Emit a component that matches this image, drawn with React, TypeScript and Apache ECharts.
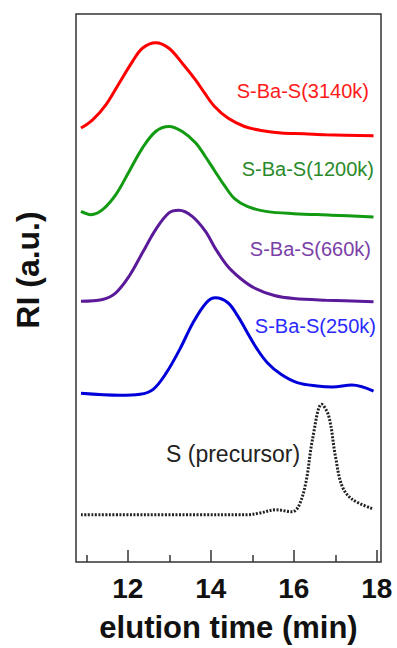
import React, { useEffect, useRef } from "react";
import * as echarts from "echarts";

const xMajorTicks = [12, 14, 16, 18];
const xMinorTicks = [11, 13, 15, 17];

const t3140 = [10.87, 11.15, 11.47, 11.79, 12.11, 12.35, 12.67, 12.99, 13.31, 13.63, 13.85, 14.09, 14.41, 14.81, 15.21, 15.69, 16.24, 16.77, 17.92];
const ri3140 = [434.7, 443, 458, 479.7, 501.3, 514.7, 520.3, 514.7, 499.7, 483, 469.7, 456.3, 444.7, 436.3, 432.3, 429.7, 429, 428, 427];

const t1200 = [10.87, 11.11, 11.39, 11.71, 12.03, 12.35, 12.67, 12.99, 13.31, 13.63, 13.87, 14.09, 14.33, 14.57, 14.89, 15.36, 16.0, 16.9, 17.92];
const ri1200 = [351.3, 348, 353, 368, 391.3, 414.7, 431.3, 436.3, 431.3, 420, 406, 392, 377, 364, 356, 351, 349, 347.5, 345.7];

const t660 = [10.87, 11.39, 11.71, 12.03, 12.35, 12.67, 12.99, 13.23, 13.55, 13.87, 14.11, 14.41, 14.73, 15.05, 15.53, 16.0, 16.77, 17.92];
const ri660 = [261.3, 263, 269.7, 286.3, 309.7, 333, 349.7, 352.3, 346.3, 331.3, 314, 296, 283.5, 274.5, 267, 264, 262.3, 260.7];

const t250 = [10.87, 11.81, 12.29, 12.61, 12.93, 13.25, 13.57, 13.89, 14.11, 14.41, 14.65, 14.88, 15.12, 15.36, 15.69, 16.08, 16.56, 16.93, 17.4, 17.92];
const ri250 = [169, 167, 168, 173, 189.7, 213, 239.7, 259.7, 264.7, 259.7, 246.3, 229.7, 213, 199.7, 188, 179.7, 176.3, 175.3, 177.3, 171.3];

const tPre = [10.87, 14.85, 15.17, 15.57, 15.96, 16.12, 16.29, 16.45, 16.67, 16.84, 17.0, 17.16, 17.4, 17.92];
const riPre = [47.3, 47.3, 49, 52.3, 50.3, 56.3, 79.7, 123, 158, 146.3, 106.3, 76.3, 63, 53];

const seriesNames = ["S-Ba-S(3140k)", "S-Ba-S(1200k)", "S-Ba-S(660k)", "S-Ba-S(250k)", "S (precursor)"];

const pair = (xs: number[], ys: number[]) => xs.map((x, i) => [x, ys[i]]);

export default function App() {
  const ref = useRef<HTMLDivElement>(null);
  useEffect(() => {
    if (!ref.current) return;
    const chart = echarts.init(ref.current, null, { renderer: "svg" });
    const font = "Liberation Sans, Arial, sans-serif";
    const mk = (name: string, data: number[][], color: string, type: any = "solid") => ({
      name,
      type: "line",
      data,
      smooth: 0.35,
      symbol: "none",
      lineStyle: { color, width: 3, type },
      xAxisIndex: 0,
      yAxisIndex: 0,
    });
    const lbl = (text: string, color: string, size: number, pos: any) => ({
      type: "text",
      ...pos,
      style: { text, fill: color, fontSize: size, fontFamily: font, fontWeight: "normal" },
    });
    chart.setOption({
      animation: false,
      backgroundColor: "#ffffff",
      grid: {
        left: 76,
        right: 16,
        top: 14,
        bottom: 85,
        show: true,
        borderColor: "#333333",
        borderWidth: 1.5,
        backgroundColor: "transparent",
      },
      xAxis: [
        {
          type: "value",
          min: 10.75,
          max: 18.1,
          name: "elution time (min)",
          nameLocation: "middle",
          nameGap: 50,
          nameTextStyle: { fontFamily: font, fontWeight: "bold", fontSize: 31, color: "#111" },
          axisLine: { show: false },
          splitLine: { show: false },
          axisTick: {
            show: true,
            inside: true,
            length: 12,
            customValues: xMajorTicks,
            lineStyle: { color: "#333", width: 1.5 },
          },
          axisLabel: {
            customValues: xMajorTicks,
            fontFamily: font,
            fontWeight: "bold",
            fontSize: 28,
            color: "#111",
            margin: 12,
          },
        },
        {
          type: "value",
          min: 10.75,
          max: 18.1,
          position: "bottom",
          axisLine: { show: false },
          splitLine: { show: false },
          axisTick: {
            show: true,
            inside: true,
            length: 7,
            customValues: xMinorTicks,
            lineStyle: { color: "#333", width: 1.5 },
          },
          axisLabel: { show: false },
        },
      ],
      yAxis: {
        type: "value",
        min: 0,
        max: 549,
        axisLine: { show: false },
        axisTick: { show: false },
        axisLabel: { show: false },
        splitLine: { show: false },
      },
      graphic: [
        {
          type: "text",
          x: 28,
          y: 270,
          rotation: Math.PI / 2,
          style: {
            text: "RI (a.u.)",
            fill: "#111",
            fontSize: 32,
            fontWeight: "bold",
            fontFamily: font,
            align: "center",
            verticalAlign: "middle",
          },
        },
        lbl(seriesNames[0], "#ff1a1a", 20, { right: 28, top: 81 }),
        lbl(seriesNames[1], "#2a8a2a", 20, { right: 23, top: 159 }),
        lbl(seriesNames[2], "#7a40a8", 20, { right: 26, top: 239 }),
        lbl(seriesNames[3], "#2a2aff", 20, { right: 21, top: 316 }),
        lbl(seriesNames[4], "#222222", 23, { left: 166, top: 442 }),
      ],
      series: [
        mk(seriesNames[0], pair(t3140, ri3140), "#ff0000"),
        mk(seriesNames[1], pair(t1200, ri1200), "#129a12"),
        mk(seriesNames[2], pair(t660, ri660), "#5a1a9a"),
        mk(seriesNames[3], pair(t250, ri250), "#0000d8"),
        mk(seriesNames[4], pair(tPre, riPre), "#222222", [2, 1.5]),
      ],
    });
    return () => chart.dispose();
  }, []);
  return <div ref={ref} style={{ position: "fixed", left: 0, top: 0, width: 397, height: 648 }} />;
}
